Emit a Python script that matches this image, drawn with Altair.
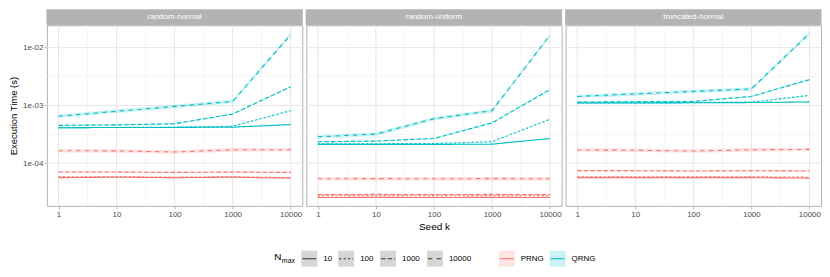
import altair as alt
import pandas as pd

# ---------------- data ----------------
seeds = [1, 10, 100, 1000, 10000]
dists = ["random-normal", "random-uniform", "truncated-normal"]
rngs = ["PRNG", "QRNG"]
nmax_levels = ["10", "100", "1000", "10000"]

# random-normal
rn_prng_10 = [5.6e-5, 5.7e-5, 5.6e-5, 5.7e-5, 5.5e-5]
rn_prng_100 = [5.8e-5, 5.8e-5, 5.7e-5, 5.8e-5, 5.6e-5]
rn_prng_1000 = [7.0e-5, 7.0e-5, 6.9e-5, 7.0e-5, 6.9e-5]
rn_prng_10000 = [1.64e-4, 1.63e-4, 1.56e-4, 1.70e-4, 1.71e-4]
rn_qrng_10 = [4.1e-4, 4.15e-4, 4.15e-4, 4.2e-4, 4.65e-4]
rn_qrng_100 = [4.1e-4, 4.15e-4, 4.2e-4, 4.36e-4, 8.1e-4]
rn_qrng_1000 = [4.5e-4, 4.6e-4, 4.8e-4, 7.1e-4, 2.1e-3]
rn_qrng_10000 = [6.5e-4, 7.9e-4, 9.6e-4, 1.17e-3, 1.69e-2]

# random-uniform
ru_prng_10 = [2.54e-5, 2.55e-5, 2.54e-5, 2.55e-5, 2.54e-5]
ru_prng_100 = [2.71e-5, 2.72e-5, 2.71e-5, 2.72e-5, 2.71e-5]
ru_prng_1000 = [2.86e-5, 2.87e-5, 2.86e-5, 2.87e-5, 2.86e-5]
ru_prng_10000 = [5.37e-5, 5.38e-5, 5.37e-5, 5.38e-5, 5.37e-5]
ru_qrng_10 = [2.11e-4, 2.11e-4, 2.11e-4, 2.13e-4, 2.67e-4]
ru_qrng_100 = [2.17e-4, 2.17e-4, 2.18e-4, 2.35e-4, 5.75e-4]
ru_qrng_1000 = [2.34e-4, 2.41e-4, 2.67e-4, 4.97e-4, 1.88e-3]
ru_qrng_10000 = [2.86e-4, 3.18e-4, 5.9e-4, 8.1e-4, 1.65e-2]

# truncated-normal
tn_prng_10 = [5.6e-5, 5.6e-5, 5.6e-5, 5.6e-5, 5.5e-5]
tn_prng_100 = [5.8e-5, 5.8e-5, 5.8e-5, 5.8e-5, 5.7e-5]
tn_prng_1000 = [7.4e-5, 7.4e-5, 7.3e-5, 7.4e-5, 7.3e-5]
tn_prng_10000 = [1.69e-4, 1.67e-4, 1.62e-4, 1.70e-4, 1.73e-4]
tn_qrng_10 = [1.10e-3, 1.10e-3, 1.11e-3, 1.12e-3, 1.15e-3]
tn_qrng_100 = [1.11e-3, 1.11e-3, 1.12e-3, 1.14e-3, 1.49e-3]
tn_qrng_1000 = [1.14e-3, 1.16e-3, 1.17e-3, 1.43e-3, 2.79e-3]
tn_qrng_10000 = [1.43e-3, 1.58e-3, 1.75e-3, 1.93e-3, 1.76e-2]

# relative half-width of the confidence ribbon, per N_max
ribbon_rel = {"10": 0.02, "100": 0.02, "1000": 0.03, "10000": 0.07}

series = {
    ("random-normal", "PRNG"): [rn_prng_10, rn_prng_100, rn_prng_1000, rn_prng_10000],
    ("random-normal", "QRNG"): [rn_qrng_10, rn_qrng_100, rn_qrng_1000, rn_qrng_10000],
    ("random-uniform", "PRNG"): [ru_prng_10, ru_prng_100, ru_prng_1000, ru_prng_10000],
    ("random-uniform", "QRNG"): [ru_qrng_10, ru_qrng_100, ru_qrng_1000, ru_qrng_10000],
    ("truncated-normal", "PRNG"): [tn_prng_10, tn_prng_100, tn_prng_1000, tn_prng_10000],
    ("truncated-normal", "QRNG"): [tn_qrng_10, tn_qrng_100, tn_qrng_1000, tn_qrng_10000],
}

x_major = [1, 10, 100, 1000, 10000]
x_minor = [10 ** 0.5, 10 ** 1.5, 10 ** 2.5, 10 ** 3.5]
y_major = [1e-4, 1e-3, 1e-2]
y_minor = [10 ** -4.5, 10 ** -3.5, 10 ** -2.5]

rows = []
for (d, r), lists in series.items():
    for n, vals in zip(nmax_levels, lists):
        e = ribbon_rel[n]
        for s, v in zip(seeds, vals):
            rows.append({"dist": d, "rng": r, "nmax": n, "grp": r + n,
                         "seed": s, "time": v, "lo": v * (1 - e), "hi": v * (1 + e)})
df = pd.DataFrame(rows)

# ---------------- styling ----------------
W, H = 256, 181
STRIP = 16
colors = ["#F8766D", "#00BFC4"]
dashes = [[1, 0], [2.2, 2.2], [4.4, 2.2], [4.4, 4.4]]
FONT = "Liberation Sans"

xscale = alt.Scale(type="log", domain=[10 ** -0.2, 10 ** 4.2], nice=False)
yscale = alt.Scale(type="log", domain=[10 ** -4.74, 10 ** -1.612], nice=False)
cscale = alt.Scale(domain=rngs, range=colors)
dscale = alt.Scale(domain=nmax_levels, range=dashes)


def xaxis(title):
    kw = dict(values=x_major, labelExpr="format(datum.value, 'd')", grid=False, domain=False,
              tickColor="#B3B3B3", tickSize=3, labelColor="#4D4D4D", labelFontSize=8,
              labelPadding=2, titleFontSize=10, titleFontWeight="normal", titleColor="#000000",
              titlePadding=3, labelFlush=False)
    if title:
        return alt.Axis(title=title, **kw)
    return alt.Axis(title=None, **kw)


yaxis_first = alt.Axis(values=y_major, labelExpr="'1e-0' + round(-log(datum.value) / LN10)",
                       grid=False, domain=False, tickColor="#B3B3B3", tickSize=3,
                       labelColor="#4D4D4D", labelFontSize=8, labelPadding=1,
                       title="Execution Time (s)", titleFontSize=9.5, titleFontWeight="normal",
                       titleColor="#000000", titlePadding=4)


def one(v):
    return pd.DataFrame({"v": [v]})


def panel(d, i):
    xa = xaxis("Seed k" if i == 1 else None)
    ya = yaxis_first if i == 0 else None
    sub = df[df["dist"] == d]

    def X(f):
        return alt.X(f, type="quantitative", scale=xscale, axis=xa)

    def Y(f):
        if ya is None:
            return alt.Y(f, type="quantitative", scale=yscale, axis=None)
        return alt.Y(f, type="quantitative", scale=yscale, axis=ya)

    layers = []
    layers.append(alt.Chart(pd.DataFrame({"g": x_minor})).mark_rule(color="#F2F2F2", strokeWidth=0.7)
                  .encode(x=X("g")))
    layers.append(alt.Chart(pd.DataFrame({"g": y_minor})).mark_rule(color="#F2F2F2", strokeWidth=0.7)
                  .encode(y=Y("g")))
    layers.append(alt.Chart(pd.DataFrame({"g": x_major})).mark_rule(color="#E6E6E6", strokeWidth=1)
                  .encode(x=X("g")))
    layers.append(alt.Chart(pd.DataFrame({"g": y_major})).mark_rule(color="#E6E6E6", strokeWidth=1)
                  .encode(y=Y("g")))
    layers.append(alt.Chart(sub).mark_area(opacity=0.2).encode(
        x=X("seed"), y=Y("lo"), y2="hi",
        color=alt.Color("rng:N", scale=cscale, legend=None),
        detail="grp:N"))
    layers.append(alt.Chart(sub).mark_line(strokeWidth=1.1).encode(
        x=X("seed"), y=Y("time"),
        color=alt.Color("rng:N", scale=cscale, legend=None),
        strokeDash=alt.StrokeDash("nmax:N", scale=dscale, legend=None),
        detail="grp:N"))
    # strip
    layers.append(alt.Chart(one(0)).mark_rect(color="#B3B3B3").encode(
        x=alt.value(-0.5), x2=alt.value(W + 0.5), y=alt.value(-STRIP), y2=alt.value(0)))
    layers.append(alt.Chart(one(0)).mark_text(color="#FFFFFF", fontSize=8, font=FONT,
                                              baseline="middle", align="center").encode(
        x=alt.value(W / 2), y=alt.value(-STRIP / 2), text=alt.value(d)))

    if i == 1:
        # manual legend, positioned relative to this panel
        ox = 306
        oy = 8 + STRIP
        yc = 258 - oy
        layers.append(alt.Chart(one(0)).mark_text(fontSize=10, font=FONT, align="left",
                                                  baseline="middle", color="#000000").encode(
            x=alt.value(274 - ox), y=alt.value(yc - 2), text=alt.value("N")))
        layers.append(alt.Chart(one(0)).mark_text(fontSize=7, font=FONT, align="left",
                                                  baseline="middle", color="#000000").encode(
            x=alt.value(281.5 - ox), y=alt.value(yc + 2), text=alt.value("max")))
        key_x = [301, 338, 380, 427]
        for kx, lab, dsh in zip(key_x, nmax_levels, dashes):
            layers.append(alt.Chart(one(0)).mark_rect(color="#D6D6D6").encode(
                x=alt.value(kx - ox), x2=alt.value(kx - ox + 16),
                y=alt.value(yc - 8), y2=alt.value(yc + 8)))
            layers.append(alt.Chart(one(0)).mark_rule(color="#333333", strokeWidth=1.1,
                                                      strokeDash=dsh).encode(
                x=alt.value(kx - ox + 1), x2=alt.value(kx - ox + 15), y=alt.value(yc)))
            layers.append(alt.Chart(one(0)).mark_text(fontSize=8, font=FONT, align="left",
                                                      baseline="middle", color="#000000").encode(
                x=alt.value(kx - ox + 22), y=alt.value(yc), text=alt.value(lab)))
        ckey_x = [499, 550]
        cfill = ["#FEE4E2", "#CCF2F3"]
        for kx, lab, col, fc in zip(ckey_x, rngs, colors, cfill):
            layers.append(alt.Chart(one(0)).mark_rect(color=fc).encode(
                x=alt.value(kx - ox), x2=alt.value(kx - ox + 16),
                y=alt.value(yc - 8), y2=alt.value(yc + 8)))
            layers.append(alt.Chart(one(0)).mark_rule(color=col, strokeWidth=1.1).encode(
                x=alt.value(kx - ox + 1), x2=alt.value(kx - ox + 15), y=alt.value(yc)))
            layers.append(alt.Chart(one(0)).mark_text(fontSize=8, font=FONT, align="left",
                                                      baseline="middle", color="#000000").encode(
                x=alt.value(kx - ox + 22), y=alt.value(yc), text=alt.value(lab)))

    return alt.layer(*layers).properties(width=W, height=H)


chart = alt.hconcat(*[panel(d, i) for i, d in enumerate(dists)], spacing=4, bounds="flush").properties(
    padding={"left": 0, "top": 0, "right": 0, "bottom": 0}
).configure(font=FONT).configure_view(stroke="#B3B3B3", strokeWidth=1)

chart.save("out.html", embed_options={"renderer": "svg", "actions": False})
